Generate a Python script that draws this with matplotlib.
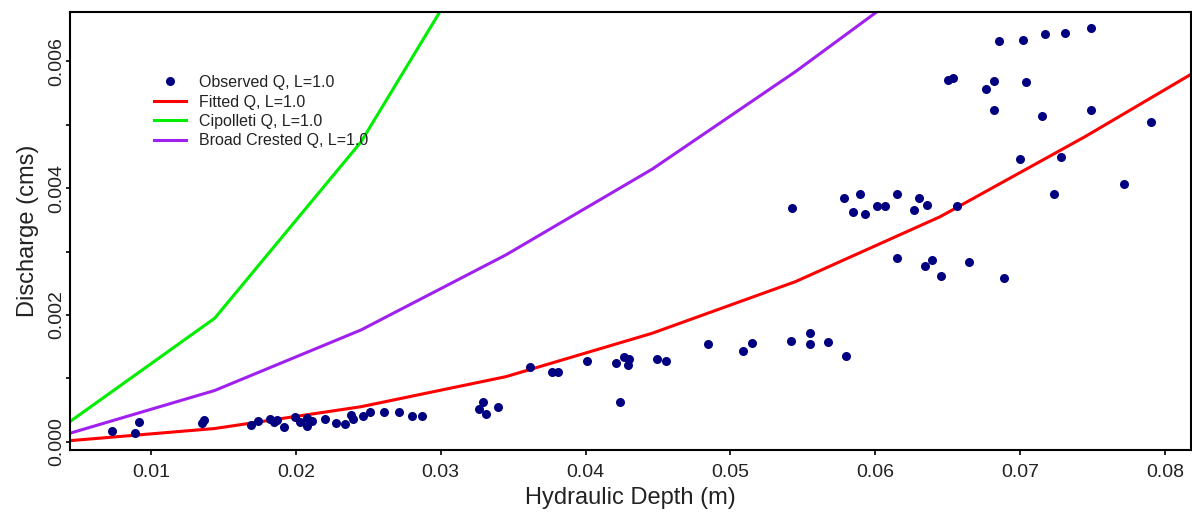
import numpy as np
import matplotlib.pyplot as plt

plt.rcParams['font.family'] = ['Liberation Sans', 'DejaVu Sans']

# observed points: hydraulic depth (m), discharge (cms)
obs_depth = [0.00733, 0.00892, 0.00919, 0.0135, 0.01366, 0.0169, 0.01738, 0.01821,
             0.01867, 0.01851, 0.0192, 0.01992, 0.02028, 0.02079, 0.02075, 0.02111,
             0.02201, 0.02279, 0.02339, 0.02378, 0.02396, 0.02463, 0.02512, 0.02608,
             0.02714, 0.02799, 0.02868, 0.03294, 0.03266, 0.0331, 0.03393, 0.0362,
             0.03772, 0.03813, 0.04007, 0.04209, 0.04264, 0.04301, 0.04295, 0.04237,
             0.04492, 0.04559, 0.04846, 0.05086, 0.05146, 0.05418, 0.05551, 0.05549,
             0.05671, 0.05795, 0.05424, 0.05785, 0.05896, 0.05845, 0.05926, 0.0601,
             0.06068, 0.06151, 0.063, 0.06354, 0.06271, 0.06567, 0.06151, 0.06392,
             0.06347, 0.06457, 0.06645, 0.06887, 0.06997, 0.07232, 0.07285, 0.07715,
             0.07906, 0.07487, 0.07151, 0.06818, 0.06763, 0.06818, 0.07044, 0.06499,
             0.0654, 0.06852, 0.07018, 0.0717, 0.07308, 0.07487]
obs_q = [0.000169, 0.000133, 0.000316, 0.0003, 0.000347, 0.000259, 0.000332, 0.000354,
         0.000343, 0.000306, 0.000237, 0.000395, 0.000316, 0.000379, 0.000248, 0.000332,
         0.000354, 0.000295, 0.000279, 0.000417, 0.000354, 0.0004, 0.000469, 0.000464,
         0.000464, 0.0004, 0.0004, 0.000631, 0.000511, 0.000442, 0.000548, 0.001184,
         0.0011, 0.0011, 0.001269, 0.001237, 0.001332, 0.00131, 0.001206, 0.000631,
         0.0013, 0.001279, 0.001542, 0.001436, 0.001553, 0.001594, 0.001716, 0.001542,
         0.001569, 0.001353, 0.003684, 0.003852, 0.003905, 0.003621, 0.003599, 0.003725,
         0.003716, 0.003905, 0.003842, 0.003736, 0.003653, 0.003716, 0.002895, 0.002863,
         0.002769, 0.00262, 0.002841, 0.002579, 0.004467, 0.003915, 0.004489, 0.004072,
         0.005051, 0.005241, 0.005146, 0.005231, 0.005572, 0.005698, 0.005678, 0.005709,
         0.005736, 0.006325, 0.006346, 0.006436, 0.006447, 0.00653]

# model curves evaluated on a coarse depth grid
grid_depth = [0.0044, 0.0144, 0.0245, 0.0345, 0.0446, 0.0545, 0.0645, 0.0745, 0.0845]
fitted_q = [0.000016, 0.000208, 0.000552, 0.001026, 0.001711, 0.002526, 0.003552, 0.004815, 0.00616]
cipolleti_q = [0.000316, 0.001948, 0.004730, 0.0085, 0.0125, 0.017, 0.022, 0.028, 0.034]
broad_q = [0.000133, 0.000808, 0.001763, 0.002947, 0.0043, 0.00584, 0.00752, 0.0093, 0.0112]

fig = plt.figure(figsize=(11.92, 5.14), dpi=100)
ax = fig.add_axes([70/1192, 64/514, 1121/1192, 438/514])

ax.plot(grid_depth, fitted_q, color='#ff0000', lw=2.2, label='Fitted Q, L=1.0', zorder=2)
ax.plot(grid_depth, cipolleti_q, color='#00ee00', lw=2.2, label='Cipolleti Q, L=1.0', zorder=2)
ax.plot(grid_depth, broad_q, color='#a020f0', lw=2.2, label='Broad Crested Q, L=1.0', zorder=2)
ax.plot(obs_depth, obs_q, 'o', color='#000080', ms=6.5, mew=0,
        label='Observed Q, L=1.0', zorder=3)

ax.set_xlim(0.00441, 0.0818)
ax.set_ylim(-0.000131, 0.00678)

ax.set_xticks([0.01, 0.02, 0.03, 0.04, 0.05, 0.06, 0.07, 0.08])
ax.set_xticklabels(['0.01', '0.02', '0.03', '0.04', '0.05', '0.06', '0.07', '0.08'])
ax.set_yticks([0.0, 0.001, 0.002, 0.003, 0.004, 0.005, 0.006])
ax.set_yticklabels(['0.000', '', '0.002', '', '0.004', '', '0.006'],
                   rotation=90, va='center')
ax.tick_params(direction='out', width=1.2, labelsize=14,
               colors='black', labelcolor='#222222')
ax.tick_params(axis='x', length=3.6, pad=6.5)
ax.tick_params(axis='y', length=3.0, pad=0.5)
for s in ax.spines.values():
    s.set_linewidth(1.5)

ax.set_xlabel('Hydraulic Depth (m)', fontsize=17, color='#222222', labelpad=4.5)
ax.set_ylabel('Discharge (cms)', fontsize=17, color='#222222', labelpad=6.5)

handles, labels = ax.get_legend_handles_labels()
order = [3, 0, 1, 2]
ax.legend([handles[i] for i in order], [labels[i] for i in order],
          loc='upper left', bbox_to_anchor=(0.075, 0.856), frameon=False,
          fontsize=11.5, handlelength=2.0, handletextpad=0.8, labelspacing=0.28,
          borderpad=0, borderaxespad=0, labelcolor='#222222')

fig.savefig('out.png', dpi=100)
